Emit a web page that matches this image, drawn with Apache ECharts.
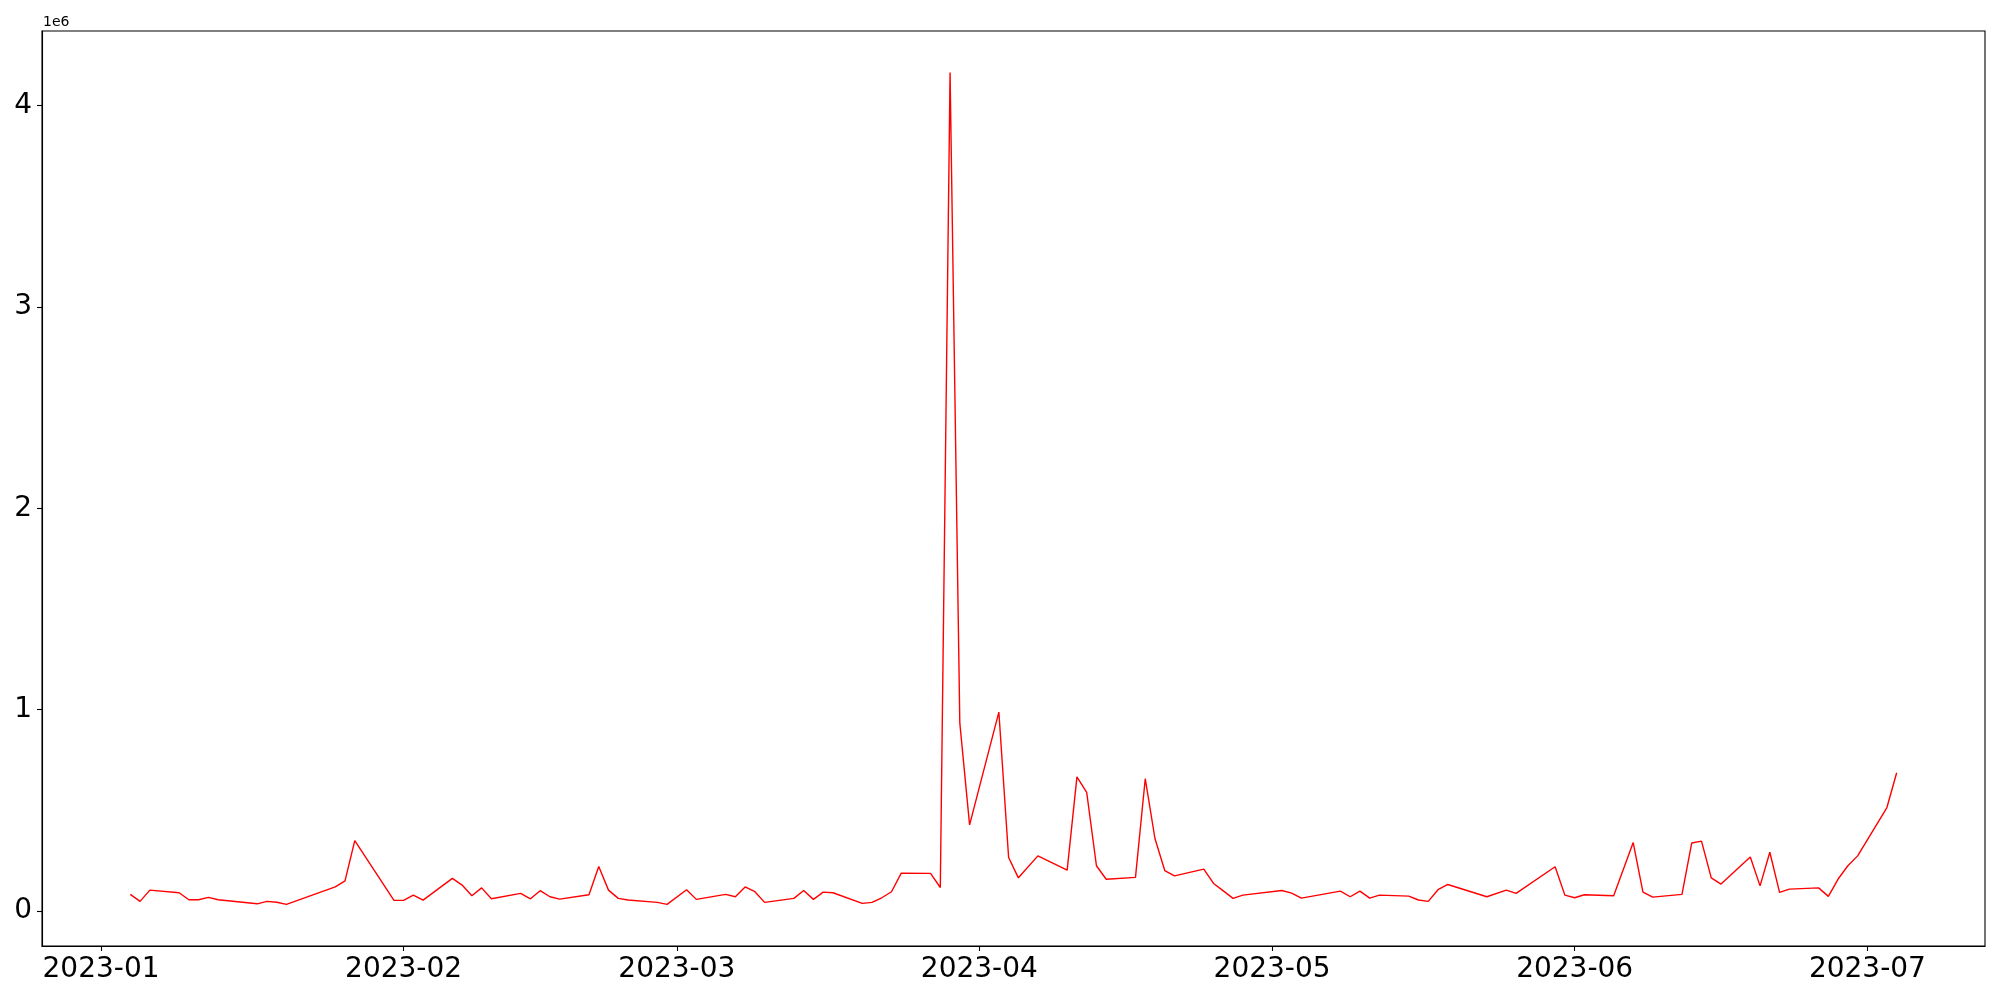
<!DOCTYPE html>
<html>
<head>
<meta charset="utf-8">
<script src="https://cdn.jsdelivr.net/npm/echarts@6/dist/echarts.min.js"></script>
<style>html,body{margin:0;padding:0;background:#fff;}#main{width:2000px;height:1000px;}</style>
</head>
<body>
<div id="main"></div>
<script>
const dates = [
 '2023-01-04','2023-01-05','2023-01-06','2023-01-09','2023-01-10','2023-01-11','2023-01-12','2023-01-13',
 '2023-01-17','2023-01-18','2023-01-19','2023-01-20','2023-01-25','2023-01-26','2023-01-27','2023-01-31',
 '2023-02-01','2023-02-02','2023-02-03','2023-02-06','2023-02-07','2023-02-08','2023-02-09','2023-02-10',
 '2023-02-13','2023-02-14','2023-02-15','2023-02-16','2023-02-17','2023-02-20','2023-02-21','2023-02-22',
 '2023-02-23','2023-02-24','2023-02-27','2023-02-28','2023-03-02','2023-03-03','2023-03-06','2023-03-07',
 '2023-03-08','2023-03-09','2023-03-10','2023-03-13','2023-03-14','2023-03-15','2023-03-16','2023-03-17',
 '2023-03-20','2023-03-21','2023-03-22','2023-03-23','2023-03-24','2023-03-27','2023-03-28','2023-03-29',
 '2023-03-30','2023-03-31','2023-04-03','2023-04-04','2023-04-05','2023-04-07','2023-04-10','2023-04-11',
 '2023-04-12','2023-04-13','2023-04-14','2023-04-17','2023-04-18','2023-04-19','2023-04-20','2023-04-21',
 '2023-04-24','2023-04-25','2023-04-26','2023-04-27','2023-04-28','2023-05-02','2023-05-03','2023-05-04',
 '2023-05-08','2023-05-09','2023-05-10','2023-05-11','2023-05-12','2023-05-15','2023-05-16','2023-05-17',
 '2023-05-18','2023-05-19','2023-05-23','2023-05-25','2023-05-26','2023-05-30','2023-05-31','2023-06-01',
 '2023-06-02','2023-06-05','2023-06-07','2023-06-08','2023-06-09','2023-06-12','2023-06-13','2023-06-14',
 '2023-06-15','2023-06-16','2023-06-19','2023-06-20','2023-06-21','2023-06-22','2023-06-23','2023-06-26',
 '2023-06-27','2023-06-28','2023-06-29','2023-06-30','2023-07-03','2023-07-04'
];
const values = [
 83000,48000,104000,91000,56000,56000,68000,56000,
 36000,48000,44000,33000,120000,150000,350000,54000,
 53000,79000,54000,162000,129000,76000,115000,61000,
 88000,61000,101000,71000,59000,81000,221000,104000,
 63000,55000,43000,33000,106000,58000,83000,71000,
 120000,96000,43000,63000,102000,58000,94000,91000,
 38000,43000,66000,96000,188000,187000,117000,4163000,
 933000,428000,988000,266000,165000,274000,203000,666000,
 589000,225000,158000,167000,657000,359000,201000,175000,
 208000,137000,100000,63000,79000,102000,89000,64000,
 99000,71000,99000,64000,79000,74000,55000,48000,
 106000,132000,71000,104000,88000,220000,79000,66000,
 81000,76000,340000,94000,69000,83000,338000,347000,
 165000,134000,268000,125000,292000,93000,109000,115000,
 73000,159000,225000,274000,514000,687000
];
const xTickDates = ['2023-01-01','2023-02-01','2023-03-01','2023-04-01','2023-05-01','2023-06-01','2023-07-01'];
const xTickLabels = ['2023-01','2023-02','2023-03','2023-04','2023-05','2023-06','2023-07'];
const yTickValues = [0, 1000000, 2000000, 3000000, 4000000];
const yTickLabels = ['0','1','2','3','4'];

function toMs(s){ const p = s.split('-').map(Number); return Date.UTC(p[0], p[1]-1, p[2]); }
const xs = dates.map(toMs);
const seriesData = xs.map((t,i)=>[t, values[i]]);
const xTickMs = xTickDates.map(toMs);

const xMin0 = Math.min(...xs), xMax0 = Math.max(...xs);
const xPad = (xMax0 - xMin0) * 0.05;
const yMin0 = Math.min(...values), yMax0 = Math.max(...values);
const yPad = (yMax0 - yMin0) * 0.05;

const FONT = 'DejaVu Sans';
const chart = echarts.init(document.getElementById('main'), null, {renderer:'canvas'});
chart.setOption({
  animation: false,
  backgroundColor: '#fff',
  grid: {left: 42, right: 15, top: 31, bottom: 54, show: true, borderColor: '#000', borderWidth: 1.1, backgroundColor: 'transparent'},
  xAxis: {
    type: 'value',
    min: xMin0 - xPad,
    max: xMax0 + xPad,
    scale: true,
    splitLine: {show: false},
    axisLine: {show: true, onZero: false, lineStyle: {color: '#000', width: 1.1}},
    axisTick: {show: true, length: 5, lineStyle: {color: '#000', width: 1.1}, customValues: xTickMs},
    axisLabel: {
      show: true, margin: 10, color: '#000', fontSize: 28, fontFamily: FONT,
      customValues: xTickMs,
      formatter: function(v){
        let best = 0, bd = Infinity;
        xTickMs.forEach((t,i)=>{ const d = Math.abs(t - v); if (d < bd){bd = d; best = i;} });
        return xTickLabels[best];
      }
    }
  },
  yAxis: {
    type: 'value',
    min: yMin0 - yPad,
    max: yMax0 + yPad,
    scale: true,
    name: '1e6',
    nameLocation: 'end',
    nameGap: 2,
    nameTextStyle: {align: 'left', verticalAlign: 'bottom', fontSize: 14, fontFamily: FONT, color: '#000', padding: [0,0,0,1]},
    splitLine: {show: false},
    axisLine: {show: true, onZero: false, lineStyle: {color: '#000', width: 1.1}},
    axisTick: {show: true, length: 5, lineStyle: {color: '#000', width: 1.1}, customValues: yTickValues},
    axisLabel: {
      show: true, margin: 10, color: '#000', fontSize: 28, fontFamily: FONT,
      customValues: yTickValues,
      formatter: function(v){
        const i = yTickValues.findIndex(t => Math.abs(t - v) < 1);
        return i >= 0 ? yTickLabels[i] : '';
      }
    }
  },
  series: [{
    type: 'line',
    data: seriesData,
    showSymbol: false,
    symbol: 'none',
    lineStyle: {color: '#ff0000', width: 1.4},
    itemStyle: {color: '#ff0000'}
  }]
});
</script>
</body>
</html>
